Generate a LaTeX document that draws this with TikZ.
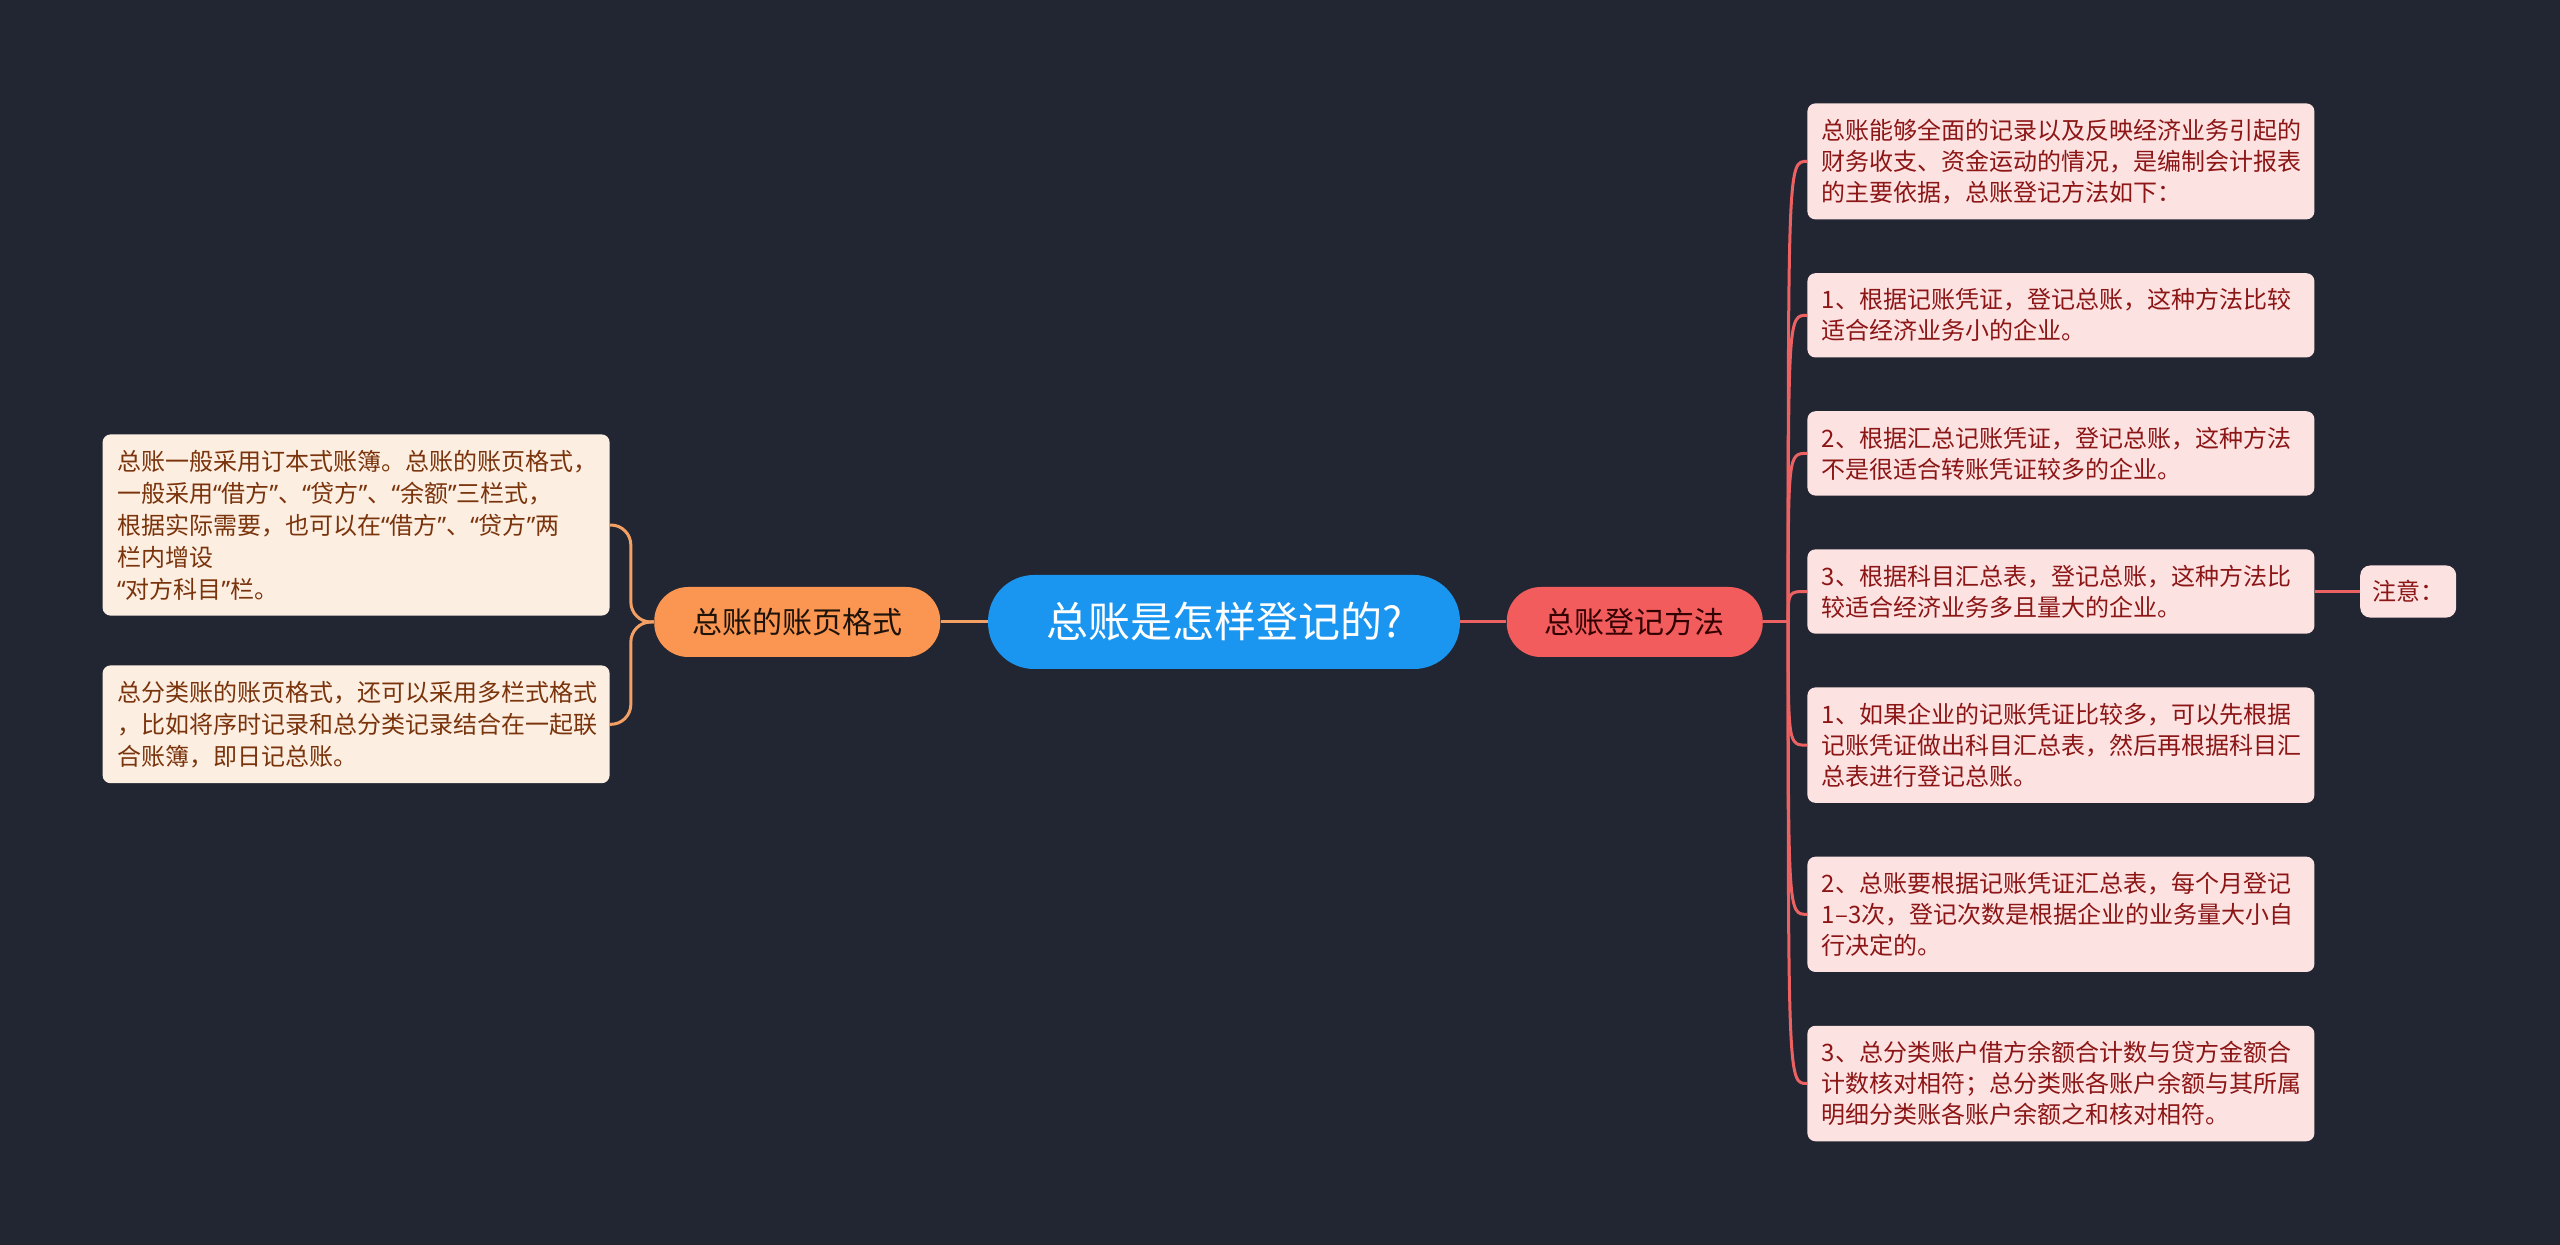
\documentclass[tikz,border=0pt]{standalone}
\usepackage{fontspec}
\setmainfont{Noto Sans CJK SC}
\newfontfamily\quotefont{Noto Sans}
\newcommand{\oq}{{\quotefont “}}
\newcommand{\cq}{{\quotefont ”}}
\usepackage{tikz}
\usetikzlibrary{positioning,calc}
\definecolor{mBg}{RGB}{34,38,50}
\definecolor{mBlue}{RGB}{26,150,240}
\definecolor{mOrange}{RGB}{250,150,82}
\definecolor{mRed}{RGB}{242,92,92}
\definecolor{mLine}{RGB}{236,98,98}
\definecolor{oLine}{RGB}{244,160,100}
\definecolor{oFill}{RGB}{253,238,226}
\definecolor{oText}{RGB}{122,52,12}
\definecolor{rFill}{RGB}{253,226,226}
\definecolor{rText}{RGB}{140,22,22}
\tikzset{
  topic/.style={rectangle, rounded corners=23pt, fill=mBlue, text=white,
                minimum height=47pt, inner xsep=29pt,
                font=\fontsize{21pt}{25pt}\selectfont},
  branch/.style={rectangle, rounded corners=17pt, minimum height=35pt,
                 inner xsep=19pt, font=\fontsize{15pt}{18pt}\selectfont},
  fmtbr/.style={branch, fill=mOrange, text=black!85!brown},
  regbr/.style={branch, fill=mRed, text=black!80!red},
  leaf/.style={rectangle, rounded corners=4pt, align=left, text width=239pt,
               inner xsep=7.25pt, inner ysep=7.75pt,
               font=\fontsize{12pt}{15.5pt}\selectfont},
  fleaf/.style={leaf, fill=oFill, text=oText, font=\fontsize{12pt}{16pt}\selectfont},
  rleaf/.style={leaf, fill=rFill, text=rText},
  tip/.style={rectangle, rounded corners=5pt, fill=rFill, text=rText,
              inner xsep=6pt, inner ysep=7.5pt, font=\fontsize{12pt}{15.5pt}\selectfont},
  oline/.style={draw=oLine, line width=1.5pt, rounded corners=10pt},
  rline/.style={draw=mLine, line width=1.5pt},
}

\begin{document}
\begin{tikzpicture}[x=0.5pt,y=-0.5pt]
  \useasboundingbox (0,0) rectangle (2560,1245);
  \fill[mBg] (0,0) rectangle (2560,1245);

  \node[topic] (root) at (1224,622) {总账是怎样登记的?};
  \node[fmtbr, left=23.5pt of root] (fmt) {总账的账页格式};
  \node[regbr, right=23pt of root] (reg) {总账登记方法};

  % left side
  \node[fleaf, anchor=north east] (f1) at (610,434) {%
    总账一般采用订本式账簿。总账的账页格式，\\
    一般采用\oq 借方\cq 、\oq 贷方\cq 、\oq 余额\cq 三栏式，\\
    根据实际需要，也可以在\oq 借方\cq 、\oq 贷方\cq 两\\
    栏内增设\\
    \oq 对方科目\cq 栏。};
  \node[fleaf, below=24.5pt of f1] (f2) {%
    总分类账的账页格式，还可以采用多栏式格式\\
    ，比如将序时记录和总分类记录结合在一起联\\
    合账簿，即日记总账。};

  % right side
  \node[rleaf, anchor=north west] (r0) at (1807,103) {%
    总账能够全面的记录以及反映经济业务引起的\\
    财务收支、资金运动的情况，是编制会计报表\\
    的主要依据，总账登记方法如下：};
  \node[rleaf, below=26.5pt of r0] (r1) {%
    1、根据记账凭证，登记总账，这种方法比较\\
    适合经济业务小的企业。};
  \node[rleaf, below=26.5pt of r1] (r2) {%
    2、根据汇总记账凭证，登记总账，这种方法\\
    不是很适合转账凭证较多的企业。};
  \node[rleaf, below=26.5pt of r2] (r3) {%
    3、根据科目汇总表，登记总账，这种方法比\\
    较适合经济业务多且量大的企业。};
  \node[rleaf, below=26.5pt of r3] (r4) {%
    1、如果企业的记账凭证比较多，可以先根据\\
    记账凭证做出科目汇总表，然后再根据科目汇\\
    总表进行登记总账。};
  \node[rleaf, below=26.5pt of r4] (r5) {%
    2、总账要根据记账凭证汇总表，每个月登记\\
    1–3次，登记次数是根据企业的业务量大小自\\
    行决定的。};
  \node[rleaf, below=26.5pt of r5] (r6) {%
    3、总分类账户借方余额合计数与贷方金额合\\
    计数核对相符；总分类账各账户余额与其所属\\
    明细分类账各账户余额之和核对相符。};
  \node[tip, right=22.5pt of r3] (note) {注意：};

  % links
  \draw[oline] (root.west) -- (fmt.east);
  \draw[rline] (root.east) -- (reg.west);
  \foreach \n in {f1,f2}
    \draw[oline] (fmt.west) -- ++(-23,0) |- (\n.east);
  \coordinate (rs) at ($(reg.east)+(25,0)$);
  \draw[rline] (reg.east) -- (rs);
  \foreach \n in {r0,r1,r2,r3,r4,r5,r6}
    \draw[rline] (rs) .. controls (rs |- \n.west) .. (\n.west);
  \draw[rline] (r3.east) -- (note.west);
\end{tikzpicture}
\end{document}
